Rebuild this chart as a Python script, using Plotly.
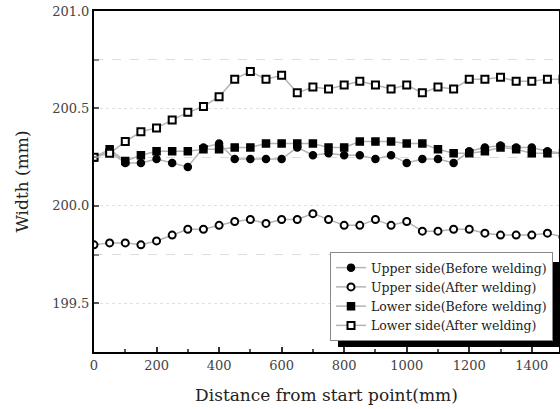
import plotly.graph_objects as go

distance = [0, 50, 100, 150, 200, 250, 300, 350, 400, 450, 500, 550, 600, 650, 700, 750,
            800, 850, 900, 950, 1000, 1050, 1100, 1150, 1200, 1250, 1300, 1350, 1400, 1450, 1500]

upper_before = [200.25, 200.28, 200.22, 200.22, 200.24, 200.22, 200.20, 200.30, 200.32, 200.24,
                200.24, 200.24, 200.24, 200.30, 200.26, 200.27, 200.26, 200.26, 200.24, 200.26,
                200.22, 200.24, 200.24, 200.22, 200.28, 200.30, 200.31, 200.30, 200.30, 200.28, 200.27]
upper_after = [199.80, 199.81, 199.81, 199.80, 199.82, 199.85, 199.88, 199.88, 199.90, 199.92,
               199.93, 199.91, 199.93, 199.93, 199.96, 199.93, 199.90, 199.90, 199.93, 199.90,
               199.92, 199.87, 199.87, 199.88, 199.88, 199.86, 199.85, 199.85, 199.85, 199.86, 199.84]
lower_before = [200.25, 200.29, 200.23, 200.26, 200.28, 200.28, 200.28, 200.29, 200.29, 200.30,
                200.30, 200.32, 200.32, 200.32, 200.32, 200.30, 200.30, 200.33, 200.33, 200.33,
                200.32, 200.32, 200.29, 200.27, 200.27, 200.28, 200.30, 200.29, 200.27, 200.27, 200.27]
lower_after = [200.25, 200.27, 200.33, 200.38, 200.40, 200.44, 200.48, 200.51, 200.56, 200.65,
               200.69, 200.65, 200.67, 200.58, 200.61, 200.60, 200.62, 200.64, 200.62, 200.60,
               200.62, 200.58, 200.61, 200.60, 200.65, 200.65, 200.66, 200.64, 200.64, 200.65, 200.65]

series_names = ["Upper side(Before welding)", "Upper side(After welding)",
                "Lower side(Before welding)", "Lower side(After welding)"]

FONT = "DejaVu Serif"
LINE_GRAY = "#b4b4b4"

styles = [
    dict(symbol="circle", color="black", line=dict(color="black", width=1.5)),
    dict(symbol="circle", color="white", line=dict(color="black", width=2)),
    dict(symbol="square", color="black", line=dict(color="black", width=1.5)),
    dict(symbol="square", color="white", line=dict(color="black", width=2)),
]

fig = go.Figure()
for name, ys, st in zip(series_names, [upper_before, upper_after, lower_before, lower_after], styles):
    fig.add_trace(go.Scatter(
        x=distance, y=ys, name=name, mode="lines+markers",
        line=dict(color=LINE_GRAY, width=1.5),
        marker=dict(size=7, **st),
    ))

W, H = 560, 409
ml, mr, mt, mb = 94, 1, 11, 57
pw, ph = W - ml - mr, H - mt - mb

def px_to_paper(px, py):
    return (px - ml) / pw, (H - mb - py) / ph

# legend anchored by its bottom-right corner (pixels)
leg_right, leg_bottom = 553, 341
lx, ly = px_to_paper(leg_right, leg_bottom)

fig.update_layout(
    width=W, height=H,
    margin=dict(l=ml, r=mr, t=mt, b=mb),
    paper_bgcolor="white", plot_bgcolor="white",
    font=dict(family=FONT, color="#333", size=13),
    showlegend=True,
    legend=dict(x=lx, y=ly, xanchor="right", yanchor="bottom",
                bgcolor="white", bordercolor="#888", borderwidth=1,
                font=dict(family=FONT, size=12.5, color="#222"),
                itemwidth=30, tracegroupgap=0),
    xaxis=dict(range=[0, 1487], tickmode="linear", tick0=0, dtick=200, automargin=False,
               ticks="inside", ticklen=5, tickwidth=1.5, tickcolor="#333",
               minor=dict(dtick=100, ticks="inside", ticklen=3, tickcolor="#555", showgrid=False),
               showline=True, linecolor="black", linewidth=2, mirror=True,
               showgrid=False, zeroline=False,
               tickfont=dict(size=13, color="#444"),
               title=dict(text="Distance from start point(mm)", font=dict(size=17, color="#222"), standoff=18)),
    yaxis=dict(range=[199.25, 201.0], tickmode="linear", tick0=199.5, dtick=0.5, automargin=False,
               tickformat=".1f",
               ticks="inside", ticklen=5, tickwidth=1.5, tickcolor="#555",
               minor=dict(dtick=0.25, tick0=199.25, ticks="inside", ticklen=5, tickcolor="#888",
                          showgrid=True, gridcolor="#dddddd", griddash="dash", gridwidth=1),
               showline=True, linecolor="black", linewidth=2, mirror=True,
               showgrid=True, gridcolor="#e0e0e0", griddash="dot", gridwidth=1,
               zeroline=False,
               tickfont=dict(size=13, color="#444"),
               title=dict(text="Width (mm)", font=dict(size=17, color="#222"), standoff=19)),
)

# legend drop shadow: one black rectangle offset down-right behind the legend box
sx0, sy0 = px_to_paper(338, 347)
sx1, sy1 = px_to_paper(559, 262)
fig.add_shape(type="rect", xref="paper", yref="paper", x0=sx0, x1=sx1, y0=sy0, y1=sy1,
              fillcolor="black", line=dict(width=0), layer="above")

fig.write_html("out.html", config={"displayModeBar": False, "responsive": False},
               post_script="document.body.style.margin='0';document.body.style.padding='0';")
